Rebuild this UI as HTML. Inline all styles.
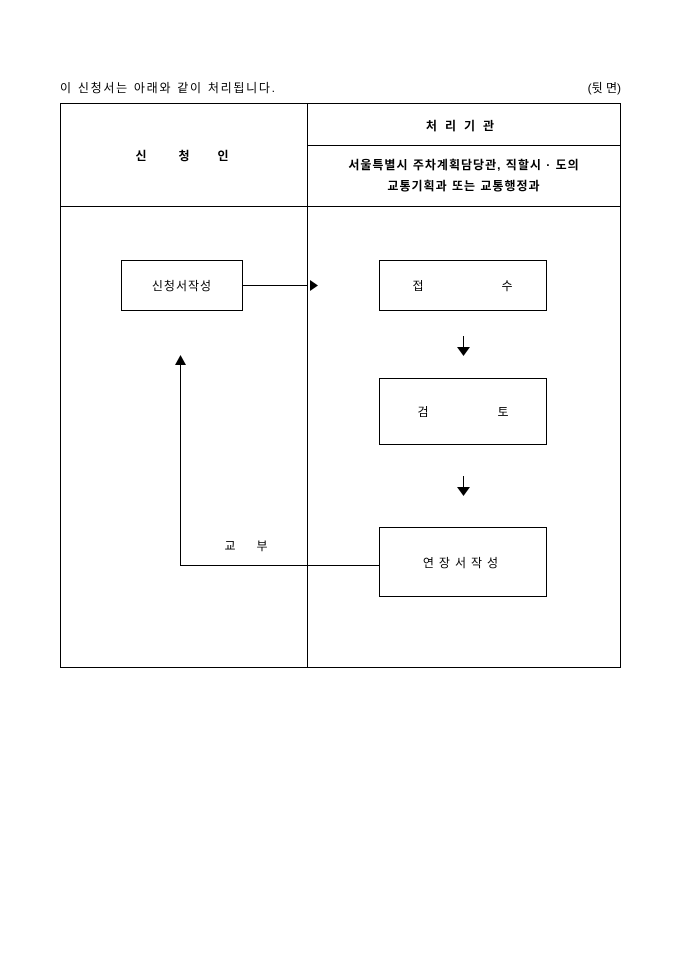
<!DOCTYPE html>
<html><head><meta charset="utf-8"><style>
body{margin:0;width:680px;height:962px;background:#fff;font-family:"Liberation Sans","Noto Sans CJK KR","NanumGothic",sans-serif;color:#000}
svg{position:absolute;left:0;top:0}
text{font-family:"Liberation Sans","Noto Sans CJK KR","NanumGothic",sans-serif;fill:#000}
</style></head><body>
<svg width="680" height="962" viewBox="0 0 680 962">
<text x="60" y="92" font-size="12" textLength="215" lengthAdjust="spacing">이 신청서는 아래와 같이 처리됩니다.</text>
<text x="621" y="92" font-size="12" text-anchor="end">(뒷 면)</text>
<g stroke="#000" stroke-width="1" fill="none">
<rect x="60.5" y="103.5" width="560" height="564"/>
<line x1="307.5" y1="103" x2="307.5" y2="668"/>
<line x1="307" y1="145.5" x2="621" y2="145.5"/>
<line x1="60" y1="206.5" x2="621" y2="206.5"/>
<rect x="121.5" y="260.5" width="121" height="50"/>
<rect x="379.5" y="260.5" width="167" height="50"/>
<rect x="379.5" y="378.5" width="167" height="66"/>
<rect x="379.5" y="527.5" width="167" height="69"/>
<line x1="243" y1="285.5" x2="307" y2="285.5"/>
<line x1="463.5" y1="336" x2="463.5" y2="348"/>
<line x1="463.5" y1="476" x2="463.5" y2="488"/>
<polyline points="379,565.5 180.5,565.5 180.5,365"/>
</g>
<g fill="#000">
<polygon points="310,280 318,285.5 310,291"/>
<polygon points="457,347 470,347 463.5,356"/>
<polygon points="457,487 470,487 463.5,496"/>
<polygon points="175,365 186,365 180.5,355"/>
</g>
<g font-size="12" font-weight="bold">
<text x="141" y="160" text-anchor="middle">신</text>
<text x="184" y="160" text-anchor="middle">청</text>
<text x="223" y="160" text-anchor="middle">인</text>
<text x="464" y="130" text-anchor="middle" letter-spacing="8">처리기관</text>
<text x="464" y="169" text-anchor="middle" letter-spacing="1">서울특별시 주차계획담당관, 직할시 · 도의</text>
<text x="464" y="190" text-anchor="middle" letter-spacing="1">교통기획과 또는 교통행정과</text>
</g>
<g font-size="12">
<text x="182" y="290" text-anchor="middle" letter-spacing="1">신청서작성</text>
<text x="418" y="290" text-anchor="middle">접</text>
<text x="507" y="290" text-anchor="middle">수</text>
<text x="423" y="416" text-anchor="middle">검</text>
<text x="503" y="416" text-anchor="middle">토</text>
<text x="463" y="567" text-anchor="middle" letter-spacing="5">연장서작성</text>
<text x="230" y="550" text-anchor="middle">교</text>
<text x="262" y="550" text-anchor="middle">부</text>
</g>
</svg>
</body></html>
